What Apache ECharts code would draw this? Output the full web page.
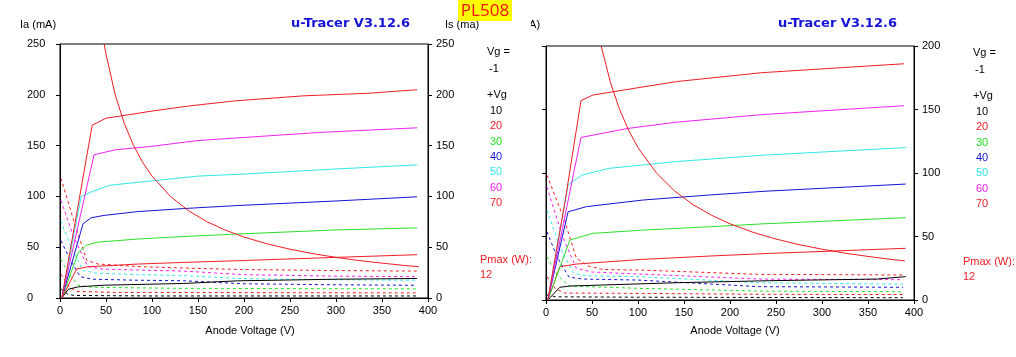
<!DOCTYPE html>
<html><head><meta charset="utf-8">
<script src="https://cdn.jsdelivr.net/npm/echarts@6/dist/echarts.min.js"></script>
<style>html,body{margin:0;padding:0;background:#fff}#c{width:1016px;height:357px}</style>
</head><body><div id="c"></div>
<script>
// ---------- tick labels ----------
var xTicks = [0, 50, 100, 150, 200, 250, 300, 350, 400];
var p1YMax = 250, p2YMax = 200;
var legendVg = ['10', '20', '30', '40', '50', '60', '70'];

// ---------- panel 1 : anode current Ia (solid) [Va, mA] ----------
var p1_ia10 = [[2,0],[9,8.6],[20,11],[48,12.6],[134,14.3],[193,16.9],[300,18.5],[388,19.2]];
var p1_ia20 = [[2,0],[18,28.5],[30,30.7],[84,33.4],[134,35],[193,36.7],[300,40],[388,42.6]];
var p1_ia30 = [[2,0],[20,45],[29,52],[41,55],[84,58],[134,60.5],[193,63],[300,67],[388,69]];
var p1_ia40 = [[2,0],[25,73],[34,79],[48,81.3],[84,85],[134,88],[193,91],[300,95.5],[388,99.6]];
var p1_ia50 = [[2,0],[23,100],[37,105.5],[54,111],[86,114],[150,120],[200,122],[300,127],[388,131]];
var p1_ia60 = [[2,0],[37,141],[61,146],[97,149],[150,155],[200,158],[283,163],[388,167.5]];
var p1_ia70 = [[2,0],[35,170],[50,177],[65,179],[100,184],[140,189],[190,194],[265,199],[335,201.5],[388,205]];
// screen current Is (dashed)
var p1_is10 = [[1,9],[8,4],[15,2.5],[100,2],[388,2]];
var p1_is20 = [[1,23.5],[10,11],[18,6.5],[60,5.5],[388,5]];
var p1_is30 = [[1,38],[10,23],[20,12.5],[35,10.5],[134,9.5],[388,9]];
var p1_is40 = [[1,56.5],[12,36],[22,21],[35,18.5],[84,17.5],[134,17],[200,14],[300,13],[388,12.5]];
var p1_is50 = [[1,76],[12,50],[25,27],[40,24.5],[84,23],[134,22],[200,19],[300,18],[388,17.5]];
var p1_is60 = [[1,96],[15,60],[30,31],[45,28.5],[84,27.5],[134,26.5],[200,23],[300,21.5],[388,21]];
var p1_is70 = [[1,118],[15,76],[29,37],[41,33.5],[84,31],[134,29.5],[200,28],[300,27],[388,26.5]];
// Pmax hyperbola (12 W)
var p1_pmax = [[48,250],[50,240],[60,200],[70,171.4],[80,150],[90,133.3],[100,120],[120,100],[140,85.7],[160,75],[180,66.7],[200,60],[225,53.3],[250,48],[275,43.6],[300,40],[325,36.9],[350,34.3],[375,32],[390,30.8]];

// ---------- panel 2 ----------
var p2_ia10 = [[2,0],[15,10],[26,11],[142,13.6],[243,15.2],[360,16.5],[391,18.4]];
var p2_ia20 = [[2,0],[15,26.2],[33,28.3],[105,32],[178,34.6],[243,36.7],[391,40.7]];
var p2_ia30 = [[2,0],[26,47.2],[51,52.5],[105,55],[178,57.7],[237,60],[391,64.8]];
var p2_ia40 = [[2,0],[24,69.5],[44,73.5],[105,78.7],[178,82.7],[237,85.6],[391,91.3]];
var p2_ia50 = [[2,0],[24,90.6],[39,98.4],[69,103.7],[142,109],[235,114],[391,120]];
var p2_ia60 = [[2,0],[38,128],[88,135],[142,140],[235,146],[389,153]];
var p2_ia70 = [[2,0],[21,79],[38,157],[51,161.4],[73,164],[142,172],[235,179],[389,186]];
var p2_is10 = [[1,4],[10,2.5],[100,2.2],[388,1.8]];
var p2_is20 = [[1,18.4],[10,9],[20,5.5],[100,5.2],[232,4.5],[388,4.3]];
var p2_is30 = [[1,34],[12,20],[25,11],[100,9.2],[232,7],[388,6.5]];
var p2_is40 = [[1,53.8],[12,34],[25,18],[40,16.5],[100,15.7],[232,10.5],[388,10]];
var p2_is50 = [[1,70.9],[15,42],[30,21],[45,19],[100,18.4],[232,13.6],[388,12.5]];
var p2_is60 = [[1,89],[18,50],[33,25],[50,22],[100,20.5],[232,16.5],[388,16]];
var p2_is70 = [[1,98.4],[20,63],[33,33],[45,27],[62,24],[105,23.5],[232,20.2],[388,19.7]];
var p2_pmax = [[60,200],[70,171.4],[80,150],[90,133.3],[100,120],[120,100],[140,85.7],[160,75],[180,66.7],[200,60],[225,53.3],[250,48],[275,43.6],[300,40],[325,36.9],[350,34.3],[375,32],[390,30.8]];

// ---------- styles ----------
var colRed = '#f01c24', colMag = '#f020f0', colCyan = '#30e8e8', colBlue = '#1414d4', colGreen = '#28e028', colBlack = '#000000';
var vgColors = [colBlack, colRed, colGreen, colBlue, colCyan, colMag, colRed];
var FONT = 'Liberation Sans, Arial, sans-serif';

var chart = echarts.init(document.getElementById('c'), null, {renderer: 'canvas'});

var grids = [
  {left: 60, top: 44, width: 368, height: 254, show: true, borderColor: '#000', borderWidth: 1},
  {left: 546, top: 46, width: 368, height: 254, show: true, borderColor: '#000', borderWidth: 1}
];

function xAx(gi) {
  return {type: 'value', gridIndex: gi, min: 0, max: 400, interval: 50,
    axisLine: {show: true, onZero: false, lineStyle: {color: '#000', width: 1}},
    axisTick: {show: true, length: 4, inside: false, lineStyle: {color: '#000'}},
    axisLabel: {color: '#000', fontSize: 11, fontFamily: FONT, margin: 7},
    splitLine: {show: false}};
}
function yAx(gi, max, pos, showLabel, margin) {
  return {type: 'value', gridIndex: gi, min: 0, max: max, interval: 50, position: pos,
    axisLine: {show: true, onZero: false, lineStyle: {color: '#000', width: 1}},
    axisTick: {show: true, length: 4, inside: false, lineStyle: {color: '#000'}},
    axisLabel: {show: showLabel, color: '#000', fontSize: 11, fontFamily: FONT, margin: margin, align: 'left'},
    splitLine: {show: false}};
}

var series = [];
function addLine(data, color, dashed, xi, yi) {
  series.push({type: 'line', data: data, xAxisIndex: xi, yAxisIndex: yi, symbol: 'none', smooth: false,
    silent: true, clip: true,
    lineStyle: {color: color, width: 1, type: dashed ? [3, 3] : 'solid'}});
}
var p1Ia = [p1_ia10, p1_ia20, p1_ia30, p1_ia40, p1_ia50, p1_ia60, p1_ia70];
var p1Is = [p1_is10, p1_is20, p1_is30, p1_is40, p1_is50, p1_is60, p1_is70];
var p2Ia = [p2_ia10, p2_ia20, p2_ia30, p2_ia40, p2_ia50, p2_ia60, p2_ia70];
var p2Is = [p2_is10, p2_is20, p2_is30, p2_is40, p2_is50, p2_is60, p2_is70];
for (var i = 0; i < 7; i++) { addLine(p1Is[i], vgColors[i], true, 0, 0); }
for (var i = 0; i < 7; i++) { addLine(p1Ia[i], vgColors[i], false, 0, 0); }
addLine(p1_pmax, colRed, false, 0, 0);
for (var i = 0; i < 7; i++) { addLine(p2Is[i], vgColors[i], true, 1, 2); }
for (var i = 0; i < 7; i++) { addLine(p2Ia[i], vgColors[i], false, 1, 2); }
addLine(p2_pmax, colRed, false, 1, 2);

function txt(x, y, s, color, size, weight, z, align) {
  return {type: 'text', x: x, y: y, z: z || 10,
    style: {text: s, fill: color, font: (weight || 'normal') + ' ' + (size || 11) + 'px ' + FONT,
      textVerticalAlign: 'middle', textAlign: align || 'left'}};
}
var graphics = [];
function legend(x0, yTop, pmaxX, pmaxY) {
  graphics.push(txt(x0, yTop, 'Vg =', '#000'));
  graphics.push(txt(x0 + 2, yTop + 17, '-1', '#000'));
  graphics.push(txt(x0, yTop + 43, '+Vg', '#000'));
  for (var k = 0; k < legendVg.length; k++) {
    graphics.push(txt(x0 + 3, yTop + 59 + k * 15.3, legendVg[k], vgColors[k]));
  }
  graphics.push(txt(pmaxX, pmaxY, 'Pmax (W):', colRed));
  graphics.push(txt(pmaxX, pmaxY + 15, '12', colRed));
}
legend(487, 52, 480, 260);
legend(973, 53, 963, 262);

// axis names
graphics.push(txt(250, 331, 'Anode Voltage (V)', '#000', 11, 'normal', 10, 'center'));
graphics.push(txt(735, 331, 'Anode Voltage (V)', '#000', 11, 'normal', 10, 'center'));

// header texts
graphics.push(txt(20, 25, 'Ia (mA)', '#000', 11, 'normal', 5));
graphics.push({type: 'text', x: 291, y: 24, z: 10, style: {text: 'u-Tracer V3.12.6', fill: '#1212d8', font: 'bold 13px DejaVu Sans, Verdana, sans-serif', textVerticalAlign: 'middle'}});
graphics.push(txt(504, 25, 'Ia (mA)', '#000', 11, 'normal', 5));
graphics.push({type: 'rect', z: 6, shape: {x: 478, y: 15, width: 53, height: 20}, style: {fill: '#fff'}});
graphics.push(txt(445, 25, 'Is (ma)', '#000', 11, 'normal', 7));
graphics.push({type: 'text', x: 778, y: 24, z: 10, style: {text: 'u-Tracer V3.12.6', fill: '#1212d8', font: 'bold 13px DejaVu Sans, Verdana, sans-serif', textVerticalAlign: 'middle'}});
graphics.push({type: 'rect', z: 20, shape: {x: 458, y: 0, width: 54, height: 21}, style: {fill: '#ffff00'}});
graphics.push({type: 'text', x: 485, y: 11, z: 21, style: {text: 'PL508', fill: '#f01010', font: '17px Open Sans, Liberation Sans, sans-serif', textAlign: 'center', textVerticalAlign: 'middle'}});

chart.setOption({
  animation: false,
  backgroundColor: '#fff',
  grid: grids,
  xAxis: [xAx(0), xAx(1)],
  yAxis: [yAx(0, p1YMax, 'left', true, 33), yAx(0, p1YMax, 'right', true, 8),
          yAx(1, p2YMax, 'right', true, 8), yAx(1, p2YMax, 'left', false, 8)],
  series: series,
  graphic: graphics
});
</script></body></html>
